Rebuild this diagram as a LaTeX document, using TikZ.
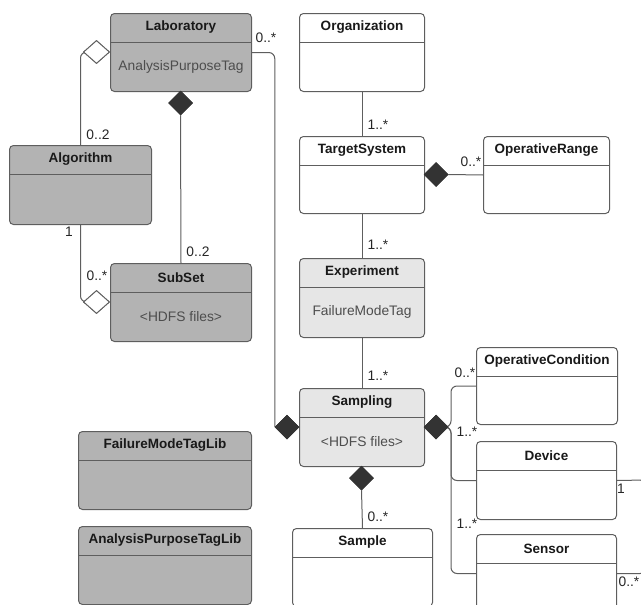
\documentclass[tikz,border=0pt]{standalone}
\usepackage{fontspec}
\setmainfont{Liberation Sans}
\usetikzlibrary{shapes.geometric}
\definecolor{dgray}{HTML}{B3B3B3}
\definecolor{lgray}{HTML}{E6E6E6}
\definecolor{edge}{HTML}{5E5E5E}
\definecolor{attc}{HTML}{4D4D4D}
\definecolor{diafill}{HTML}{333333}
\tikzset{
  cls/.style={draw=edge, line width=1pt, rounded corners=4pt, inner sep=0pt, rectangle},
  sepline/.style={draw=edge, line width=1pt},
  ttl/.style={font=\fontsize{13.5}{16}\selectfont\bfseries, text=black!90, inner sep=0pt},
  att/.style={font=\fontsize{13.8}{16}\selectfont, text=attc, inner sep=0pt},
  conn/.style={draw=edge, line width=1pt, rounded corners=6pt},
  mult/.style={font=\fontsize{13.8}{16}\selectfont, text=black!85, inner sep=0pt},
  odia/.style={diamond, draw=edge, fill=white, line width=0.9pt, inner sep=0pt, minimum width=26pt, minimum height=23pt},
  fdiah/.style={diamond, draw=diafill, fill=diafill, line width=0.5pt, inner sep=0pt, minimum width=24pt, minimum height=24pt},
}
\newcommand\umlbox[8]{%
  \node[cls, fill=#6, minimum width=#4, minimum height=#5, anchor=north west] (#1) at (#2,#3) {};
  \draw[sepline] ([yshift=-29.5pt]#1.north west) -- ([yshift=-29.5pt]#1.north east);
  \node[ttl] (#1-t) at ([yshift=-14.5pt]#1.north) {#7};
  \node[att] (#1-a) at ([yshift=-53.5pt]#1.north) {#8};
}
\begin{document}
\begin{tikzpicture}[x=1pt,y=-1pt]
\useasboundingbox (0,0) rectangle (641,605);
% classes
\umlbox{lab}{110}{13}{141}{78}{dgray}{Laboratory}{AnalysisPurposeTag}
\umlbox{alg}{9}{145}{142}{79}{dgray}{Algorithm}{}
\umlbox{sub}{110}{263}{141}{78}{dgray}{SubSet}{<HDFS files>}
\umlbox{org}{299}{13}{125}{78}{white}{Organization}{}
\umlbox{ts}{299}{136}{125}{77}{white}{TargetSystem}{}
\umlbox{or}{483}{136}{126}{77}{white}{OperativeRange}{}
\umlbox{exp}{299}{258}{125}{79}{lgray}{Experiment}{FailureModeTag}
\umlbox{samp}{299}{388}{125}{78}{lgray}{Sampling}{<HDFS files>}
\umlbox{oc}{476}{347}{141}{77}{white}{OperativeCondition}{}
\umlbox{dev}{476}{441}{140}{78}{white}{Device}{}
\umlbox{sen}{476}{534}{140}{78}{white}{Sensor}{}
\umlbox{smp}{292}{528}{140}{78}{white}{Sample}{}
\umlbox{fml}{78}{431}{173}{78}{dgray}{FailureModeTagLib}{}
\umlbox{apl}{78}{526}{173}{78}{dgray}{AnalysisPurposeTagLib}{}
% diamonds
\node[odia] (d1) at (96.5,52) {};
\node[fdiah] (d2) at (180.5,103) {};
\node[odia] (d3) at (96.5,302) {};
\node[fdiah] (d4) at (287,427) {};
\node[fdiah] (d5) at (436,174.5) {};
\node[fdiah] (d6) at (436,427) {};
\node[fdiah] (d7) at (361.5,478) {};
\coordinate (bus) at (451,427);
\coordinate (rbus) at (646,480);
% connectors
\draw[conn] (alg.north) |- (d1.west);
\draw[conn] (d2.south) -- (sub.north);
\draw[conn] (alg.south) |- (d3.west);
\draw[conn] (lab.east) -| (d4.west);
\draw[conn] (org.south) -- (ts.north);
\draw[conn] (ts.south) -- (exp.north);
\draw[conn] (exp.south) -- (samp.north);
\draw[conn] (d5.east) -- (or.west);
\draw[conn] (d6.east) -- (bus) |- (oc.west);
\draw[conn] (d6.east) -- (bus) |- (dev.west);
\draw[conn] (d6.east) -- (bus) |- (sen.west);
\draw[conn] (dev.east) -- (rbus) |- (sen.east);
\draw[conn] (d7.south) -- (smp.north);
% diamonds on top
\node[odia] at (d1) {};
\node[fdiah] at (d2) {};
\node[odia] at (d3) {};
\node[fdiah] at (d4) {};
\node[fdiah] at (d5) {};
\node[fdiah] at (d6) {};
\node[fdiah] at (d7) {};
% multiplicities
\node[mult] (m1) at (98,135) {0..2};
\node[mult] (m2) at (198,252) {0..2};
\node[mult] (m3) at (69,232) {1};
\node[mult] (m4) at (97,276) {0..*};
\node[mult] (m5) at (266,38) {0..*};
\node[mult] (m6) at (378,125) {1..*};
\node[mult] (m7) at (378,245) {1..*};
\node[mult] (m8) at (378,376) {1..*};
\node[mult] (m9) at (471,162) {0..*};
\node[mult] (m10) at (465,373) {0..*};
\node[mult] (m11) at (467,432) {1..*};
\node[mult] (m12) at (467,524) {1..*};
\node[mult] (m13) at (378,517) {0..*};
\node[mult] (m14) at (621,489) {1};
\node[mult] (m15) at (629,582) {0..*};
\end{tikzpicture}
\end{document}
